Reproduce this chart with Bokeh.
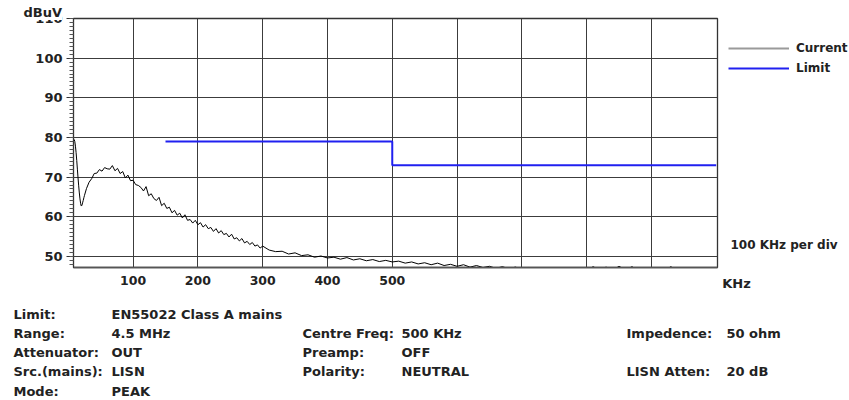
from bokeh.plotting import figure
from bokeh.models import Range1d, FixedTicker, Legend, LegendItem
from bokeh.layouts import row, column
from bokeh.core.properties import value
from bokeh.embed import file_html
from bokeh.resources import INLINE

# ---------------- data ----------------
current_freq_khz = [
    9, 10, 11, 12, 13, 14, 15, 16, 17, 18, 19, 20, 21, 22, 23, 24, 25,
    28, 32, 36, 40, 44, 48, 52, 56, 60, 64, 68, 72, 76, 80, 84, 88, 92, 96,
    100, 104, 108, 112, 116, 120, 124, 128, 132, 136, 140, 144, 148, 152, 156,
    160, 164, 168, 172, 176, 180, 184, 188, 192, 196, 200, 204, 208, 212, 216,
    220, 224, 228, 232, 236, 240, 244, 248, 252, 256, 260, 264, 268, 272, 276,
    280, 284, 288, 292, 296, 300,
    310, 320, 330, 340, 350, 360, 370, 380, 390, 400, 410, 420, 430, 440, 450,
    460, 470, 480, 490, 500, 510, 520, 530, 540, 550, 560, 570, 580, 590, 600,
    610, 620, 630, 640, 650, 660, 670, 680, 690, 700, 710, 720, 730, 740, 750,
    760, 770, 780, 790, 800, 810, 820, 830, 840, 850, 860, 870, 880, 890, 900,
    910, 920, 930, 940, 950, 960, 970, 980, 990, 1000,
]
current_dbuv = [
    79.5, 79.0, 77.8, 76.2, 74.2, 72.0, 69.8, 67.8, 66.0, 64.5, 63.3, 62.7, 62.9, 63.5, 64.1, 64.8, 65.4,
    67.1, 68.7, 69.6, 70.9, 71.0, 71.9, 71.5, 72.4, 72.1, 72.0, 72.9, 71.6, 72.2, 70.9, 71.4, 69.8, 70.5, 69.1,
    69.2, 68.1, 67.9, 67.4, 66.5, 67.6, 65.3, 65.8, 64.6, 64.1, 64.9, 62.8, 63.4, 62.1, 62.4,
    61.0, 61.6, 60.4, 60.9, 59.7, 60.5, 59.1, 59.3, 58.4, 59.1, 58.0, 58.5, 57.4, 58.0, 57.0,
    57.3, 56.3, 57.0, 55.9, 56.5, 55.5, 55.8, 54.9, 55.6, 54.4, 54.7, 53.9, 54.5, 53.4, 53.8,
    53.0, 53.5, 52.6, 52.9, 52.1, 52.6,
    51.6, 51.2, 51.3, 50.6, 50.9, 50.2, 50.4, 49.8, 50.1, 49.6, 49.8, 49.3, 49.7, 49.1, 49.4,
    48.9, 49.2, 48.7, 49.0, 48.6, 48.8, 48.3, 48.6, 48.1, 48.4, 47.9, 48.3, 47.7, 48.0, 47.5,
    47.9, 47.3, 47.7, 47.2, 47.5, 47.0, 47.4, 46.9, 47.3, 46.8, 47.2, 46.7, 47.1, 46.6, 46.8,
    46.5, 46.7, 46.4, 46.7, 46.5, 47.4, 46.6, 47.3, 46.5, 47.5, 46.6, 47.4, 46.5, 46.8, 46.4,
    46.6, 46.5, 47.4, 46.4, 46.6, 46.3, 46.5, 46.2, 46.4, 46.3,
]
limit_freq_khz = [150, 500, 1000]
limit_dbuv = [79, 73, 73]

x_tick_values = [100, 200, 300, 400, 500, 600, 700, 800, 900]
x_tick_labels = ["100", "200", "300", "400", "500", "", "", "", ""]
y_tick_values = [50, 60, 70, 80, 90, 100, 110]
y_minor_values = list(range(48, 111))

x_unit_label = "KHz"
y_unit_label = "dBuV"
scale_note = "100 KHz per div"
legend_labels = ["Current", "Limit"]
legend_colors = ["#9a9a9a", "#2020f0"]

info_rows = [
    ("Limit:", "EN55022 Class A mains", "", "", "", ""),
    ("Range:", "4.5 MHz", "Centre Freq:", "500 KHz", "Impedence:", "50 ohm"),
    ("Attenuator:", "OUT", "Preamp:", "OFF", "", ""),
    ("Src.(mains):", "LISN", "Polarity:", "NEUTRAL", "LISN Atten:", "20 dB"),
    ("Mode:", "PEAK", "", "", "", ""),
]

# ---------------- geometry ----------------
W, H = 849, 400
TOP_H = 300
MAIN_W = 720
FL, FR, FT, FB = 73, 717, 18, 267
X0, X1 = 8.0, 1002.0
Y0, Y1 = 47.2, 110.0
FONT = "DejaVu Sans"
TXT = "#222222"
BASE_FIX = 4.5  # text glyph baseline correction (px)

# ---------------- main chart ----------------
p = figure(width=MAIN_W, height=TOP_H, x_range=Range1d(X0, X1), y_range=Range1d(Y0, Y1),
           output_backend="svg", toolbar_location=None,
           min_border_left=FL, min_border_right=MAIN_W - FR,
           min_border_top=FT, min_border_bottom=TOP_H - FB)
p.background_fill_color = "white"
p.border_fill_color = "white"
p.outline_line_color = "#333333"
p.outline_line_width = 1.3

p.title.text = y_unit_label
p.title.align = "left"
p.title.offset = -50
p.title.standoff = -3
p.title.text_font = FONT
p.title.text_font_style = "bold"
p.title.text_font_size = "13px"
p.title.text_color = TXT
p.title.background_fill_color = "white"

p.xaxis.ticker = FixedTicker(ticks=x_tick_values)
p.xaxis.major_label_overrides = {v: l for v, l in zip(x_tick_values, x_tick_labels)}
p.xaxis.major_tick_out = 0
p.xaxis.major_tick_in = 0
p.xaxis.minor_tick_out = 0
p.xaxis.minor_tick_in = 0
p.xaxis.axis_line_color = "#555555"
p.xaxis.axis_line_width = 1.5
p.xaxis.major_label_standoff = 8
p.xaxis.major_label_text_font_size = "12.5px"

p.yaxis.ticker = FixedTicker(ticks=y_tick_values, minor_ticks=y_minor_values)
p.yaxis.major_tick_out = 7
p.yaxis.major_tick_in = 0
p.yaxis.minor_tick_out = 4
p.yaxis.minor_tick_in = 0
p.yaxis.axis_line_color = "#333333"
p.yaxis.major_tick_line_color = "#333333"
p.yaxis.minor_tick_line_color = "#555555"
p.yaxis.major_label_standoff = 4
p.yaxis.major_label_text_font_size = "13px"

for ax in (p.xaxis, p.yaxis):
    ax.major_label_text_font = FONT
    ax.major_label_text_font_style = "bold"
    ax.major_label_text_color = TXT

p.grid.grid_line_color = "#3c3c3c"
p.grid.grid_line_width = 1
p.grid.grid_line_alpha = 1

p.line(current_freq_khz, current_dbuv, line_color="black", line_width=1)
p.step(limit_freq_khz, limit_dbuv, mode="after", line_color=legend_colors[1], line_width=2)

# ---------------- right side: legend, scale note, x unit ----------------
SIDE_W = W - MAIN_W
# its frame is aligned with the main frame (rows 18..267); coordinates are page pixels
s = figure(width=SIDE_W, height=TOP_H, x_range=Range1d(MAIN_W, W), y_range=Range1d(FB, FT),
           output_backend="svg", toolbar_location=None, y_axis_type=None,
           min_border_left=0, min_border_right=0, min_border_top=FT, min_border_bottom=TOP_H - FB)
s.outline_line_color = None
s.background_fill_color = "white"
s.border_fill_color = "white"
s.xgrid.visible = False
s.xaxis.ticker = FixedTicker(ticks=[736])
s.xaxis.major_label_overrides = {736: x_unit_label}
s.xaxis.axis_line_color = None
s.xaxis.major_tick_line_color = None
s.xaxis.minor_tick_line_color = None
s.xaxis.major_tick_out = 0
s.xaxis.minor_tick_out = 0
s.xaxis.major_label_standoff = 8
s.xaxis.major_label_text_font = FONT
s.xaxis.major_label_text_font_style = "bold"
s.xaxis.major_label_text_font_size = "13px"
s.xaxis.major_label_text_color = TXT

# legend key renderers (kept outside the visible area; only their swatches show)
keys = [s.line([0, 10], [-50, -50], line_color=c, line_width=2) for c in legend_colors]
legend = Legend(items=[LegendItem(label=l, renderers=[k]) for l, k in zip(legend_labels, keys)],
                location=(3, FB - 83), padding=5, margin=0, spacing=0,
                glyph_width=61, glyph_height=20, label_height=20, label_standoff=7,
                border_line_alpha=0, background_fill_alpha=0,
                label_text_font=FONT, label_text_font_style="bold",
                label_text_font_size="12px", label_text_color=TXT)
s.add_layout(legend)

s.text(x=[730], y=[249 - BASE_FIX], text=[scale_note], text_font=value(FONT),
       text_font_style="bold", text_font_size="12px", text_color=TXT,
       text_align="left", text_baseline="alphabetic")

# ---------------- info table below ----------------
INFO_H = H - TOP_H
q = figure(width=W, height=INFO_H, x_range=Range1d(0, W), y_range=Range1d(INFO_H, 0),
           output_backend="svg", toolbar_location=None,
           x_axis_type=None, y_axis_type=None,
           min_border_left=0, min_border_right=0, min_border_top=0, min_border_bottom=0)
q.outline_line_color = None
q.background_fill_color = "white"
q.border_fill_color = "white"

col_x = [13, 111, 302, 401, 626, 726]
row_y = [318, 337, 356, 375, 395]
tx, ty, tt = [], [], []
for ry, r in zip(row_y, info_rows):
    for cx, t in zip(col_x, r):
        if t:
            tx.append(cx)
            ty.append(ry - TOP_H - BASE_FIX)
            tt.append(t)
q.text(x=tx, y=ty, text=tt, text_font=value(FONT), text_font_style="bold",
       text_font_size="13px", text_color=TXT, text_align="left", text_baseline="alphabetic")

layout = column(row(p, s, spacing=0), q, spacing=0)
open("out.html", "w").write(file_html(layout, INLINE))
